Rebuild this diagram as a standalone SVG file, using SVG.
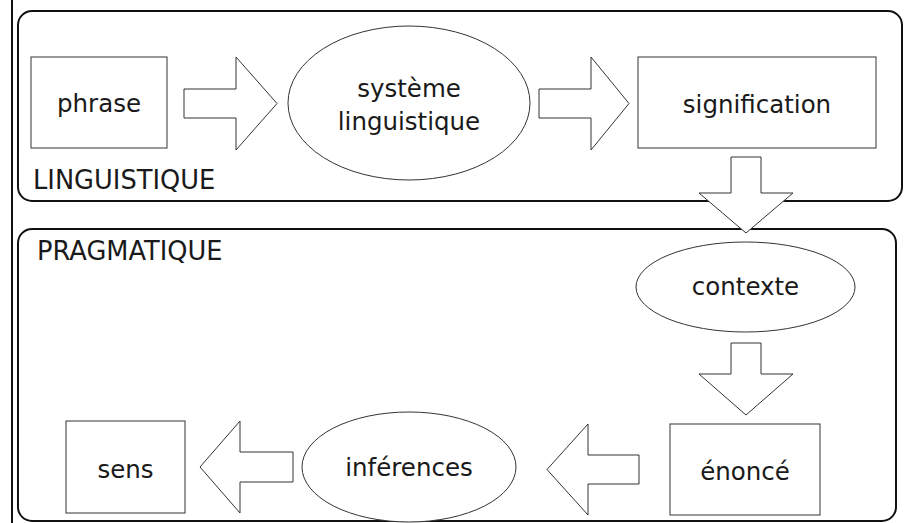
<svg xmlns="http://www.w3.org/2000/svg" width="908" height="523" viewBox="0 0 908 523">
<style>
.frame{fill:#fff;stroke:#111;stroke-width:2}
.shape{fill:#fff;stroke:#333;stroke-width:1}
.arrow{fill:#fff;stroke:#333;stroke-width:1}
text{font-family:"DejaVu Sans",Verdana,sans-serif;font-size:24.5px;fill:#1a1a1a;text-anchor:middle}
.title{text-anchor:start;font-size:25.7px}
</style>
<rect width="908" height="523" fill="#fff"/>
<line x1="12" y1="0" x2="12" y2="523" stroke="#111" stroke-width="2"/>
<g id="linguistique">
<rect class="frame" x="18" y="11" width="884" height="190" rx="14"/>
<text class="title" x="33" y="189">LINGUISTIQUE</text>
</g>
<g id="pragmatique">
<rect class="frame" x="18" y="229" width="878" height="292" rx="14"/>
<text class="title" x="37" y="260">PRAGMATIQUE</text>
</g>
<g id="phrase">
<rect class="shape" x="31" y="57" width="136" height="91"/>
<text x="99" y="112">phrase</text>
</g>
<g id="systeme">
<ellipse class="shape" cx="409" cy="103" rx="121" ry="77"/>
<text x="409" y="97">système</text>
<text x="409" y="129.5">linguistique</text>
</g>
<g id="signification">
<rect class="shape" x="638" y="57" width="238" height="91"/>
<text x="757" y="113">signification</text>
</g>
<g id="contexte">
<ellipse class="shape" cx="745.5" cy="287" rx="109.5" ry="45"/>
<text x="745.5" y="295">contexte</text>
</g>
<g id="enonce">
<rect class="shape" x="670" y="424" width="150" height="91"/>
<text x="745" y="480">énoncé</text>
</g>
<g id="inferences">
<ellipse class="shape" cx="409" cy="467" rx="107" ry="55"/>
<text x="409" y="476">inférences</text>
</g>
<g id="sens">
<rect class="shape" x="66" y="421" width="119" height="92"/>
<text x="125.5" y="478">sens</text>
</g>
<g id="connectors">
<polygon class="arrow" points="184,89 236,89 236,57 277,103.5 236,150 236,118 184,118"/>
<polygon class="arrow" points="539,89 591,89 591,57 629,103.5 591,150 591,118 539,118"/>
<polygon class="arrow" points="731,157 761,157 761,193 793,193 746,233 699,193 731,193"/>
<polygon class="arrow" points="731,343 761,343 761,374 793,374 746,415 699,374 731,374"/>
<polygon class="arrow" points="639,455 588,455 588,424 547,469.5 588,515 588,484 639,484"/>
<polygon class="arrow" points="293,452 240,452 240,421 200,467 240,513 240,482 293,482"/>
</g>
</svg>
